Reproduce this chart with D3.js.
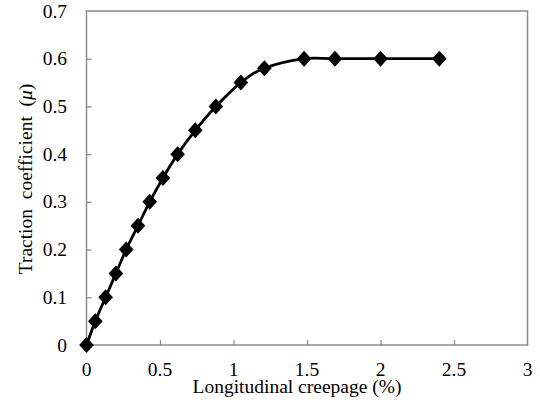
<!DOCTYPE html>
<html><head><meta charset="utf-8">
<script src="https://cdn.jsdelivr.net/npm/d3@7/dist/d3.min.js"></script>
<style>
body{margin:0;background:#fff}
svg text{font-family:"Liberation Serif","Times New Roman",Tinos,serif;font-size:19.5px}
</style>
</head><body>
<svg id="c" width="540" height="405"></svg>
<script>
const creepage = [0, 0.06, 0.13, 0.20, 0.27, 0.35, 0.43, 0.52, 0.62, 0.74, 0.88, 1.05, 1.21, 1.48, 1.69, 2.0, 2.4];
const traction = [0, 0.05, 0.10, 0.15, 0.20, 0.25, 0.30, 0.35, 0.40, 0.45, 0.50, 0.55, 0.58, 0.60, 0.60, 0.60, 0.60];
const xTicks = [0, 0.5, 1, 1.5, 2, 2.5, 3];
const yTicks = [0, 0.1, 0.2, 0.3, 0.4, 0.5, 0.6, 0.7];

const svg = d3.select("#c");
const L = 86.5, R = 527.5, T = 11, B = 345;
const x = d3.scaleLinear().domain([0, 3]).range([L, R]);
const y = d3.scaleLinear().domain([0, 0.7]).range([B, T]);
const axisColor = "#8c8c8c";

// ticks inside
const gx = svg.append("g").attr("transform", `translate(0,${B})`)
  .call(d3.axisTop(x).tickValues(xTicks.slice(1, -1)).tickSize(5).tickFormat(""));
gx.select(".domain").remove();
gx.selectAll("text").remove();
gx.selectAll("line").attr("stroke", axisColor).attr("stroke-width", 1.3);
const gy = svg.append("g").attr("transform", `translate(${L},0)`)
  .call(d3.axisRight(y).tickValues(yTicks.slice(1, -1)).tickSize(5).tickFormat(""));
gy.select(".domain").remove();
gy.selectAll("text").remove();
gy.selectAll("line").attr("stroke", axisColor).attr("stroke-width", 1.3);

// border
svg.append("rect").attr("x", L).attr("y", T).attr("width", R - L).attr("height", B - T)
  .attr("fill", "none").attr("stroke", axisColor).attr("stroke-width", 1.5);

// tick labels
svg.append("g").selectAll("text").data(xTicks).join("text")
  .attr("x", d => x(d)).attr("y", 376).attr("text-anchor", "middle").text(d => d);
svg.append("g").selectAll("text").data(yTicks).join("text")
  .attr("x", 67).attr("y", d => y(d)).attr("dy", "0.34em").attr("text-anchor", "end").text(d => d);

// axis titles
svg.append("text").attr("x", 297).attr("y", 393).attr("text-anchor", "middle")
  .text("Longitudinal creepage (%)");
const yt = svg.append("text").attr("transform", "translate(32,179) rotate(-90)")
  .attr("text-anchor", "middle");
yt.append("tspan").text("Traction\u00a0 coefficient\u00a0 (");
yt.append("tspan").style("font-style", "italic").text("\u03bc");
yt.append("tspan").text(")");

// line
const pts = creepage.map((c, i) => [c, traction[i]]);
svg.append("path").datum(pts)
  .attr("d", d3.line().x(d => x(d[0])).y(d => y(d[1])).curve(d3.curveCardinal.tension(0)))
  .attr("fill", "none").attr("stroke", "#000").attr("stroke-width", 2.8);

// diamond markers
const dw = 7.3, dh = 8;
svg.append("g").selectAll("path").data(pts).join("path")
  .attr("transform", d => `translate(${x(d[0])},${y(d[1])})`)
  .attr("d", `M0,${-dh}L${dw},0L0,${dh}L${-dw},0Z`).attr("fill", "#000");
</script>
</body></html>
